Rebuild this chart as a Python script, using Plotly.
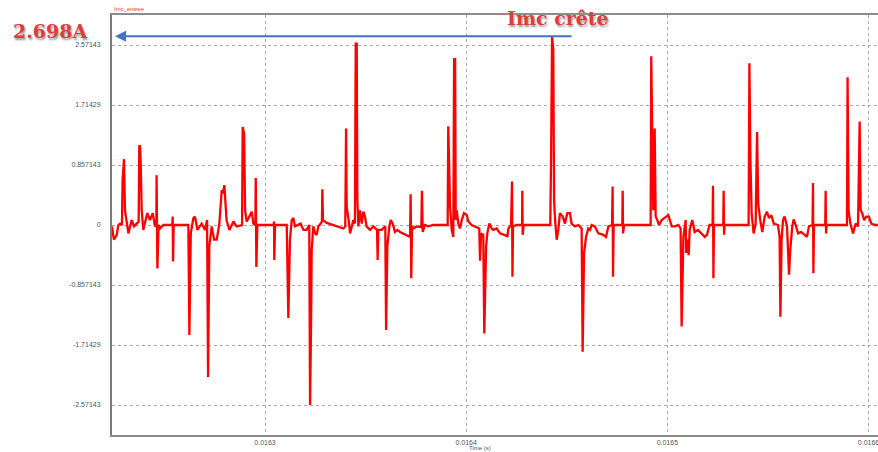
import plotly.graph_objects as go

# Imc_entree current waveform, time in microseconds and current in amperes
time_us = [
    16223.9, 16224.9, 16226.3, 16227.1, 16227.9, 16228.9, 16229.2, 16229.6, 16229.9, 16230.4,
    16231.2, 16232.1, 16233.7, 16234.9, 16236.2, 16237.2, 16237.5, 16237.9, 16238.2, 16238.7,
    16239.5, 16241.5, 16242.8, 16244.2, 16245.3, 16246.0, 16246.1, 16246.3, 16246.5, 16247.1,
    16247.8, 16249.5, 16253.9, 16254.1, 16254.3, 16254.6, 16261.9, 16262.4, 16263.1, 16264.4,
    16265.2, 16266.4, 16268.5, 16270.2, 16271.2, 16271.7, 16272.3, 16273.5, 16274.7, 16276.0,
    16277.3, 16278.5, 16279.0, 16279.8, 16280.9, 16282.3, 16284.3, 16285.9, 16288.6, 16288.9,
    16289.6, 16290.1, 16290.9, 16292.2, 16293.4, 16294.2, 16295.2, 16295.4, 16295.7, 16296.2,
    16304.3, 16304.5, 16304.6, 16305.0, 16310.8, 16311.6, 16312.4, 16313.3, 16314.1, 16314.9,
    16316.6, 16317.7, 16319.1, 16320.7, 16322.0, 16322.4, 16322.9, 16323.2, 16324.0, 16324.9,
    16325.7, 16326.5, 16327.7, 16328.3, 16328.5, 16328.8, 16330.7, 16334.0, 16339.0, 16339.9,
    16340.3, 16340.6, 16340.9, 16341.6, 16342.3, 16343.1, 16343.9, 16344.7, 16345.1, 16345.6,
    16345.9, 16346.4, 16347.2, 16348.1, 16348.9, 16349.7, 16350.5, 16352.2, 16353.9, 16355.7,
    16356.0, 16356.3, 16358.0, 16359.8, 16360.2, 16360.8, 16361.8, 16362.5, 16363.5, 16364.6,
    16365.8, 16367.1, 16369.6, 16372.1, 16372.4, 16372.7, 16373.1, 16373.7, 16375.4, 16377.7,
    16378.0, 16378.4, 16379.5, 16381.2, 16383.7, 16390.8, 16391.1, 16391.6, 16392.0, 16392.8,
    16393.6, 16394.0, 16394.5, 16394.8, 16395.3, 16396.1, 16396.9, 16397.8, 16398.9, 16400.3,
    16401.1, 16402.7, 16404.4, 16406.5, 16406.9, 16407.4, 16408.5, 16409.0, 16409.9, 16410.5,
    16411.5, 16412.7, 16413.5, 16415.2, 16416.8, 16419.3, 16420.5, 16421.0, 16422.3, 16422.8,
    16423.0, 16423.3, 16425.1, 16427.8, 16427.9, 16428.1, 16428.6, 16441.8, 16442.2, 16442.7,
    16443.3, 16443.7, 16444.2, 16445.0, 16445.8, 16446.6, 16448.0, 16449.1, 16450.3, 16451.6,
    16452.4, 16454.1, 16455.8, 16457.4, 16457.9, 16458.6, 16459.6, 16460.7, 16461.6, 16462.4,
    16464.0, 16465.7, 16468.2, 16469.5, 16470.7, 16472.5, 16472.8, 16473.0, 16473.3, 16477.6,
    16477.8, 16478.0, 16478.5, 16491.7, 16492.0, 16492.5, 16493.0, 16493.7, 16494.2, 16495.0,
    16495.9, 16497.2, 16498.8, 16500.5, 16502.2, 16503.8, 16505.5, 16506.6, 16507.1, 16508.0,
    16509.1, 16509.4, 16509.9, 16510.6, 16511.1, 16512.4, 16513.6, 16515.2, 16516.9, 16518.6,
    16519.7, 16521.0, 16522.5, 16522.7, 16522.9, 16523.2, 16527.8, 16528.0, 16528.2, 16528.5,
    16540.4, 16540.8, 16541.3, 16541.9, 16542.9, 16543.9, 16544.6, 16545.2, 16546.2, 16547.2,
    16548.4, 16549.5, 16550.5, 16551.7, 16552.9, 16555.0, 16555.8, 16556.2, 16556.8, 16557.5,
    16558.3, 16559.5, 16560.5, 16561.1, 16562.1, 16562.8, 16563.8, 16565.0, 16566.6, 16568.3,
    16569.4, 16570.4, 16572.2, 16572.4, 16572.6, 16572.9, 16578.5, 16578.7, 16578.9, 16579.2,
    16589.3, 16589.6, 16590.1, 16591.0, 16592.3, 16593.6, 16594.8, 16595.6, 16596.1, 16596.9,
    16597.8, 16598.9, 16600.2, 16601.4, 16603.1, 16604.7,
]

imc_entree = [
    -0.02, -0.21, -0.14, 0, 0.02, 0, 0.64, 0.93, 0.94, 0.21,
    0.07, -0.12, 0.07, -0.02, 0.02, 0.05, 1.14, 1.12, 0.88, 0.21,
    -0.07, 0.17, 0.07, 0.17, -0.02, 0, 0.71, 0.07, -0.62, 0,
    -0.05, 0, 0, 0.12, -0.52, 0, 0, -1.57, -0.12, 0.10,
    0.12, -0.07, 0.02, -0.07, 0.07, -2.17, -0.31, -0.02, -0.21, -0.21,
    0.02, 0.50, 0.45, 0.57, 0.07, -0.07, 0.05, -0.02, 0, 1.40,
    1.31, 0.21, 0.05, 0.12, 0.19, 0.02, 0, 0.67, -0.60, 0,
    0, 0.05, -0.50, 0, 0, -1.33, -0.21, 0.07, 0.10, -0.02,
    0, 0.02, -0.07, -0.07, 0, -2.57, -1.40, -0.36, -0.02, -0.12,
    -0.14, -0.02, 0.02, 0.05, 0.51, 0.07, 0.03, 0, -0.05, -0.02,
    1.38, 0.26, 0.21, 0.07, -0.12, -0.02, 0.07, 0.02, 2.59, 2.59,
    0.38, -0.02, 0.21, 0.02, 0.19, 0.12, -0.02, -0.07, -0.02, -0.07,
    -0.50, -0.07, -0.07, -0.02, -1.50, -0.31, -0.02, 0.07, 0.02, -0.10,
    -0.07, -0.10, -0.13, -0.17, 0.44, -0.76, -0.02, -0.05, -0.02, -0.03,
    0.49, -0.10, 0, -0.02, 0, 0, 1.41, 0.79, 0.26, -0.07,
    -0.17, 2.37, 2.37, 0.07, 0.21, 0.02, -0.05, 0.07, 0.17, 0.14,
    0.05, 0, -0.02, -0.05, -0.51, -0.12, -0.14, -1.55, -0.31, -0.12,
    0.02, -0.05, -0.07, -0.05, -0.12, -0.14, -0.16, -0.05, 0, 0.62,
    -0.74, -0.02, 0, 0, 0.49, -0.14, 0, 0, 0.93, 2.698,
    2.50, 0.36, 0.07, -0.21, -0.07, 0.17, 0.12, 0.02, 0.17, 0.17,
    0.02, -0.02, 0, -0.05, -1.81, -0.40, -0.17, -0.05, -0.07, 0,
    -0.02, -0.12, -0.14, -0.17, -0.02, 0, 0.55, -0.74, 0, 0,
    0.49, -0.12, 0, 0, 2.41, 1.21, 0.21, 1.38, 0.12, 0.07,
    0, 0.07, 0.10, 0.14, -0.02, -0.02, 0, -0.05, -1.45, -0.17,
    0.07, -0.40, -0.21, -0.43, -0.07, 0.07, -0.10, -0.07, -0.12, -0.17,
    -0.14, 0, 0, 0.56, -0.76, 0, 0, 0.49, -0.14, 0,
    0, 2.31, 0.93, 0.17, -0.12, 0.02, 1.33, 0.29, 0.07, -0.10,
    0.12, 0.19, 0.10, 0.14, 0.02, 0, -0.17, -1.31, -0.21, 0.07,
    0.12, -0.02, -0.71, -0.36, -0.02, 0.08, 0, -0.12, -0.10, -0.14,
    -0.17, -0.02, 0, 0.60, -0.69, 0, 0, 0.49, -0.12, 0,
    0, 2.11, 0.21, 0.02, -0.12, 0.02, -0.02, 1.48, 0.21, 0.17,
    0.07, 0.12, 0.12, 0.02, 0, 0,
]

peak_value = 2.698

x_tickvals = [0.0163, 0.0164, 0.0165, 0.0166]
x_ticktext = ["0.0163", "0.0164", "0.0165", "0.0166"]
y_tickvals = [2.571429, 1.714286, 0.857143, 0, -0.857143, -1.714286, -2.571429]
y_ticktext = ["2.57143", "1.71429", "0.857143", "0", "-0.857143", "-1.71429", "-2.57143"]

time_s = [t * 1e-6 for t in time_us]

fig = go.Figure()
fig.add_trace(go.Scatter(
    x=time_s, y=imc_entree, mode="lines",
    line=dict(color="#ff0000", width=2.3),
    hoverinfo="skip", showlegend=False,
))

tick_font = dict(family="Liberation Sans, Arial, sans-serif", size=7, color="#555555")

fig.update_layout(
    width=878, height=452,
    margin=dict(l=112, r=0, t=15, b=17),
    paper_bgcolor="white", plot_bgcolor="white",
    template="none",
    showlegend=False,
    xaxis=dict(
        range=[0.01622394, 0.01660472],
        tickvals=x_tickvals, ticktext=x_ticktext,
        tickfont=tick_font, ticks="", ticklabeloverflow="allow",
        showgrid=True, gridcolor="#aaaaaa", griddash="dot", gridwidth=1,
        zeroline=False,
        showline=True, linecolor="#8c8c8c", linewidth=2, mirror=True,
        automargin=False,
    ),
    yaxis=dict(
        range=[-3, 3],
        tickvals=y_tickvals, ticktext=y_ticktext,
        tickfont=tick_font, ticks="", ticklabelstandoff=8,
        showgrid=True, gridcolor="#aaaaaa", griddash="dot", gridwidth=1,
        zeroline=False,
        showline=True, linecolor="#7a7a7a", linewidth=2,
        automargin=False,
    ),
)

# Trace name and axis title
fig.add_annotation(
    xref="paper", yref="paper", x=0.0, y=1.003, xanchor="left", yanchor="bottom",
    text="Imc_entree", showarrow=False,
    font=dict(family="Liberation Sans, Arial, sans-serif", size=6, color="#ff3030"),
)
fig.add_annotation(
    xref="paper", yref="paper", x=0.48, y=-0.02, xanchor="center", yanchor="top",
    text="Time (s)", showarrow=False,
    font=dict(family="Liberation Sans, Arial, sans-serif", size=6, color="#555555"),
)

# Peak marker: arrow at the crest level
fig.add_annotation(
    x=0.01622544, y=peak_value, xref="x", yref="y",
    ax=458, ay=0, axref="pixel", ayref="pixel",
    text="", showarrow=True,
    arrowhead=2, arrowsize=1.1, arrowwidth=2, arrowcolor="#4472c4",
)
fig.add_annotation(
    xref="paper", yref="paper", x=-0.081, y=0.962, xanchor="center", yanchor="middle",
    text="<b>%.3fA</b>" % peak_value, showarrow=False,
    font=dict(family="DejaVu Serif, serif", size=19, color="#e03c3c",
              shadow="1px 2px 2px #9a9a9a"),
)
fig.add_annotation(
    xref="paper", yref="paper", x=0.582, y=0.992, xanchor="center", yanchor="middle",
    text="<b>Imc crête</b>", showarrow=False,
    font=dict(family="DejaVu Serif, serif", size=19, color="#e03c3c",
              shadow="1px 2px 2px #9a9a9a"),
)

fig.write_html("out.html")
